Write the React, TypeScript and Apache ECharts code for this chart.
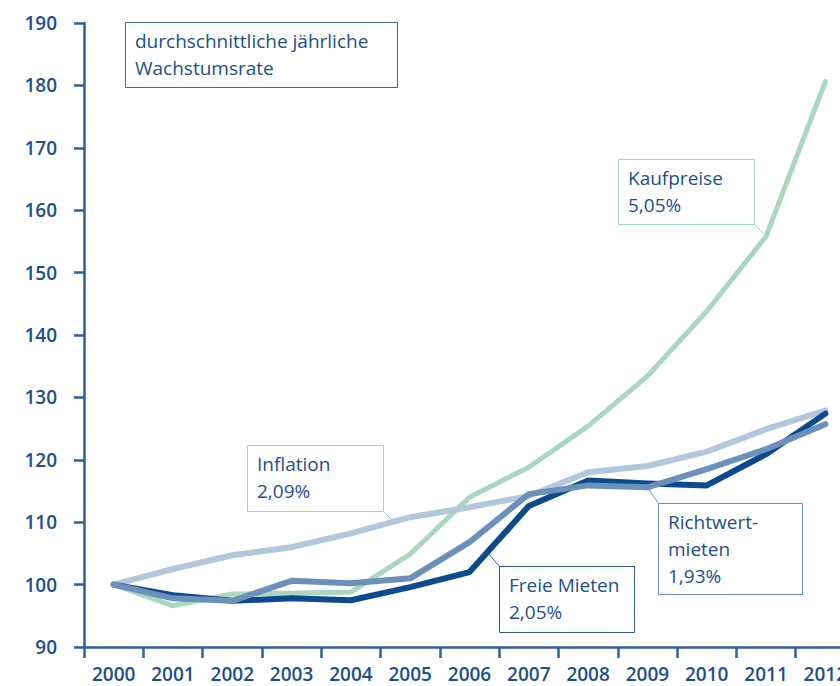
import React, { useEffect, useRef } from "react";
import * as echarts from "echarts";

const years = ["2000", "2001", "2002", "2003", "2004", "2005", "2006", "2007", "2008", "2009", "2010", "2011", "2012"];
const kaufpreise = [100, 96.6, 98.5, 98.6, 98.8, 104.9, 114.0, 118.8, 125.4, 133.4, 143.8, 155.8, 180.6];
const inflation = [100, 102.5, 104.7, 106.0, 108.2, 110.8, 112.4, 114.2, 118.0, 119.0, 121.3, 124.9, 127.9];
const freieMieten = [100, 98.3, 97.4, 97.8, 97.5, 99.6, 102.0, 112.6, 116.7, 116.2, 115.9, 120.9, 127.4];
const richtwertmieten = [100, 97.8, 97.4, 100.6, 100.2, 101.0, 106.8, 114.5, 115.9, 115.6, 118.5, 121.7, 125.7];

const yMin = 90;
const yMax = 190;
const yStep = 10;

const TEXT = "#1c4f8c";
const AXIS = "#2e5f9e";
const FONT = "'Open Sans', 'Noto Sans', sans-serif";

const C_KAUF = "#a9d7bf";
const C_INFL = "#b2c6dc";
const C_FREI = "#0d4a8d";
const C_RICHT = "#6b91bb";

// annotation boxes (layout), with connector anchor on a series
const boxes = [
  { lines: ["durchschnittliche jährliche", "Wachstumsrate"], x: 125, y: 22, w: 272, h: 65, stroke: "#3a6aa5" },
  { lines: ["Kaufpreise", "5,05%"], x: 618, y: 159, w: 136, h: 65, stroke: C_KAUF, series: kaufpreise, idx: 11, frac: 0, cx: 754, cy: 224 },
  { lines: ["Inflation", "2,09%"], x: 247, y: 445, w: 136, h: 66, stroke: C_INFL, series: inflation, idx: 4, frac: 0.72, cx: 383, cy: 511 },
  { lines: ["Freie Mieten", "2,05%"], x: 499, y: 566, w: 135, h: 66, stroke: "#2b5b96", series: freieMieten, idx: 6, frac: 0.3, cx: 499, cy: 566 },
  { lines: ["Richtwert-", "mieten", "1,93%"], x: 658, y: 503, w: 144, h: 91, stroke: C_RICHT, series: richtwertmieten, idx: 9, frac: 0, cx: 658, cy: 503 },
];

export default function App() {
  const ref = useRef<HTMLDivElement>(null);
  useEffect(() => {
    if (!ref.current) return;
    const chart = echarts.init(ref.current, null, { renderer: "svg" });
    const mkLine = (name: string, data: number[], color: string, width: number, z: number) => ({
      type: "line",
      name,
      data,
      symbol: "none",
      z,
      lineStyle: { color, width, cap: "round", join: "round" },
    });
    chart.setOption({
      animation: false,
      backgroundColor: "#ffffff",
      grid: { left: 84, top: 23, bottom: 39, right: 0 },
      xAxis: {
        type: "category",
        data: years,
        boundaryGap: true,
        axisLine: { lineStyle: { color: AXIS, width: 2.5 } },
        axisTick: { show: true, length: 11, lineStyle: { color: AXIS, width: 2.5 } },
        axisLabel: { color: TEXT, fontSize: 19, fontWeight: 600, fontFamily: FONT, margin: 17, interval: 0 },
        splitLine: { show: false },
      },
      yAxis: {
        type: "value",
        min: yMin,
        max: yMax,
        interval: yStep,
        axisLine: { show: true, lineStyle: { color: AXIS, width: 2.5 } },
        axisTick: { show: true, length: 10, lineStyle: { color: AXIS, width: 2.5 } },
        axisLabel: { color: TEXT, fontSize: 19, fontWeight: 600, fontFamily: FONT, margin: 27 },
        splitLine: { show: false },
      },
      series: [
        mkLine("Kaufpreise", kaufpreise, C_KAUF, 5, 2),
        mkLine("Inflation", inflation, C_INFL, 6, 3),
        mkLine("Freie Mieten", freieMieten, C_FREI, 6, 4),
        mkLine("Richtwertmieten", richtwertmieten, C_RICHT, 6, 5),
      ],
    });

    const graphics: any[] = [];
    boxes.forEach((b: any) => {
      graphics.push({
        type: "rect",
        shape: { x: b.x + 0.5, y: b.y + 0.5, width: b.w, height: b.h },
        style: { fill: "#ffffff", stroke: b.stroke, lineWidth: 1 },
        z: 10,
      });
      graphics.push({
        type: "text",
        x: b.x + 10,
        y: b.y + 5.5,
        style: {
          text: b.lines.join("\n"),
          fill: TEXT,
          fontSize: 19,
          fontWeight: 500,
          fontFamily: FONT,
          lineHeight: 27,
          verticalAlign: "top",
        },
        z: 11,
      });
      if (b.series) {
        const p0 = chart.convertToPixel({ xAxisIndex: 0, yAxisIndex: 0 }, [b.idx, b.series[b.idx]]) as number[];
        const p1 = chart.convertToPixel({ xAxisIndex: 0, yAxisIndex: 0 }, [b.idx + 1, b.series[b.idx + 1]]) as number[];
        const tx = p0[0] + (p1[0] - p0[0]) * b.frac;
        const ty = p0[1] + (p1[1] - p0[1]) * b.frac;
        graphics.push({
          type: "line",
          shape: { x1: b.cx + 0.5, y1: b.cy + 0.5, x2: tx, y2: ty },
          style: { stroke: b.stroke, lineWidth: 1 },
          z: 1,
        });
      }
    });
    chart.setOption({ graphic: graphics });
    return () => chart.dispose();
  }, []);
  return (
    <div style={{ position: "absolute", left: 0, top: 0, width: 840, height: 686, overflow: "hidden" }}>
      <div ref={ref} style={{ position: "absolute", left: 0, top: 0, width: 855, height: 686 }} />
    </div>
  );
}
